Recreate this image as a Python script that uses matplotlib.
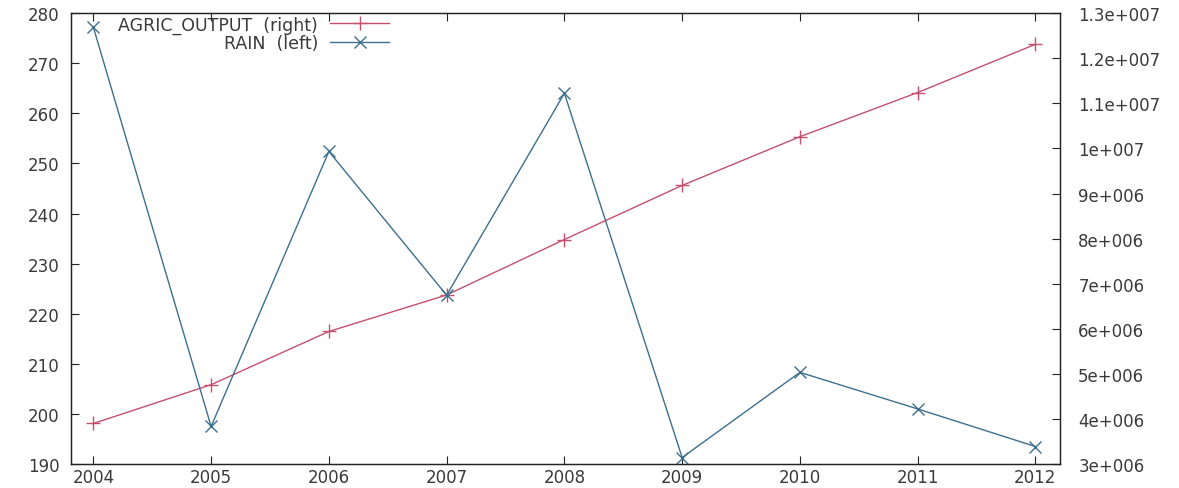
import matplotlib
matplotlib.use("Agg")
import matplotlib.pyplot as plt

# yearly series
years = [2004, 2005, 2006, 2007, 2008, 2009, 2010, 2011, 2012]
rain = [277.2, 197.5, 252.4, 223.7, 264.0, 191.3, 208.3, 201.0, 193.5]
agric_output = [3.90e6, 4.76e6, 5.94e6, 6.75e6, 7.98e6, 9.18e6, 10.26e6, 11.24e6, 12.31e6]

left_ticks = list(range(190, 281, 10))
right_ticks = [3e6, 4e6, 5e6, 6e6, 7e6, 8e6, 9e6, 1e7, 1.1e7, 1.2e7, 1.3e7]
right_labels = ["3e+006", "4e+006", "5e+006", "6e+006", "7e+006", "8e+006",
                "9e+006", "1e+007", "1.1e+007", "1.2e+007", "1.3e+007"]

red = "#c4506e"
blue = "#3d6f8e"
text_col = "#3a3a3a"

plt.rcParams["font.family"] = ["DejaVu Sans"]
plt.rcParams["font.size"] = 12

fig = plt.figure(figsize=(11.79, 4.89), dpi=100)
ax = fig.add_axes([0.0602, 0.049, 0.839, 0.922])
ax2 = ax.twinx()

# RAIN on the left axis, AGRIC_OUTPUT on the right
l_agric, = ax2.plot(years, agric_output, color=red, lw=1.0, marker="+",
                    markersize=10, markeredgewidth=1.0,
                    label="AGRIC_OUTPUT  (right)")
l_rain, = ax.plot(years, rain, color=blue, lw=1.0, marker="x",
                  markersize=8, markeredgewidth=1.0, label="RAIN  (left)")
ax.set_zorder(ax2.get_zorder() + 1)
ax.patch.set_visible(False)

ax.set_xlim(2003.81, 2012.21)
ax.set_ylim(190, 280)
ax2.set_ylim(3e6, 1.3e7)

ax.set_xticks(years)
ax.set_xticklabels([str(y) for y in years])
ax.set_yticks(left_ticks)
ax2.set_yticks(right_ticks)
ax2.set_yticklabels(right_labels)

ax.tick_params(axis="x", direction="in", top=True, length=6, width=0.8,
               colors="#222222", labelcolor=text_col, pad=3)
ax.tick_params(axis="y", direction="in", length=6, width=0.8,
               colors="#222222", labelcolor=text_col, pad=8)
ax2.tick_params(axis="y", direction="in", length=6, width=0.8,
                colors="#222222", labelcolor=text_col, pad=13)

for a in (ax, ax2):
    for s in a.spines.values():
        s.set_linewidth(0.9)
        s.set_color("#222222")

leg = ax.legend([l_agric, l_rain], [l_agric.get_label(), l_rain.get_label()],
                loc="upper right", bbox_to_anchor=(0.334, 1.022),
                frameon=False, markerfirst=False, handlelength=3.4,
                handletextpad=0.7, labelspacing=0.0, borderpad=0.2,
                prop={"size": 12.5})
for t in leg.get_texts():
    t.set_color(text_col)

fig.savefig("out.png", dpi=100)
